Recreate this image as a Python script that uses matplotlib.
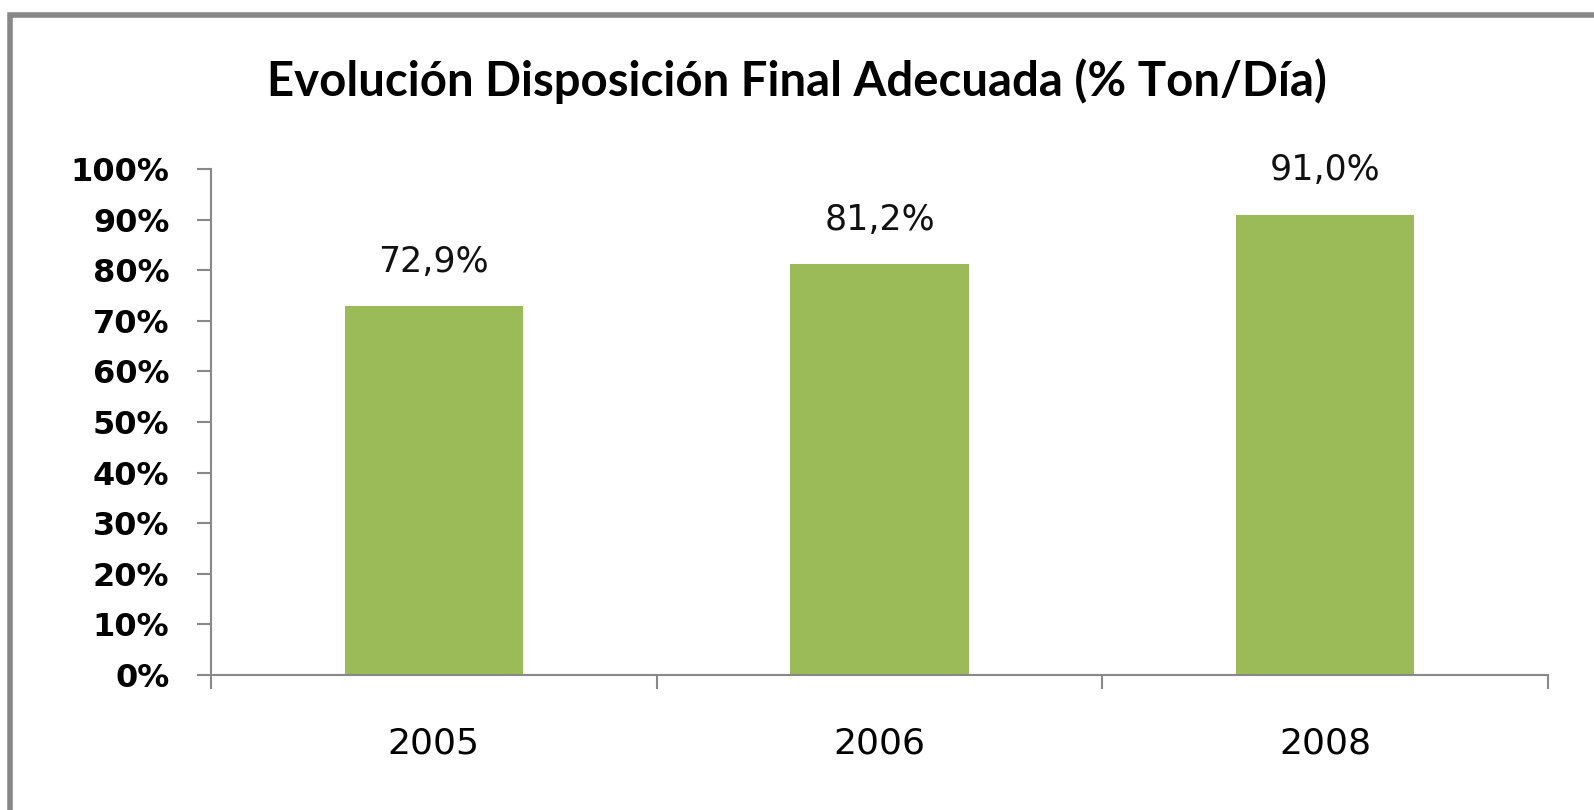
import matplotlib.pyplot as plt
from matplotlib.patches import Rectangle

years = ["2005", "2006", "2008"]
values = [72.9, 81.2, 91.0]
value_labels = ["72,9%", "81,2%", "91,0%"]
yticks = list(range(0, 101, 10))

fig = plt.figure(figsize=(15.94, 8.10), dpi=100)
ax = fig.add_axes([0.1324, 0.1667, 0.8387, 0.6247])

x = range(len(years))
ax.bar(x, values, width=0.4, color="#9BBB59", zorder=2)

for xi, v, lab in zip(x, values, value_labels):
    ax.text(xi, v + 8.7, lab, ha="center", va="center", fontsize=25,
            family="DejaVu Sans", color="#111111")

ax.set_xlim(-0.5, 2.5)
ax.set_ylim(0, 100)
ax.set_yticks(yticks)
ax.set_yticklabels([f"{t}%" for t in yticks], fontsize=23, fontweight="bold",
                   family="DejaVu Sans")
ax.set_xticks(list(x))
ax.set_xticklabels(years, fontsize=26, family="DejaVu Sans")
ax.set_xticks([-0.5, 0.5, 1.5, 2.5], minor=True)
ax.tick_params(axis="x", which="major", length=0, pad=37)
ax.tick_params(axis="x", which="minor", length=10, width=1.5, color="#888888", direction="out")
ax.tick_params(axis="y", length=10, width=1.5, color="#888888", pad=20)

for side in ["top", "right"]:
    ax.spines[side].set_visible(False)
for side in ["left", "bottom"]:
    ax.spines[side].set_color("#888888")
    ax.spines[side].set_linewidth(1.5)

fig.text(0.5, 0.9, "Evolución Disposición Final Adecuada (% Ton/Día)",
         ha="center", va="center", fontsize=34, fontweight="bold", family="Lato")

# grey frame (only top and left edges are visible in the crop)
fig.patches.append(Rectangle((0.0065, -0.1), 1.2, 1.0815, transform=fig.transFigure,
                             fill=False, edgecolor="#888888", linewidth=4))

fig.savefig("out.png", dpi=100, facecolor="white")
